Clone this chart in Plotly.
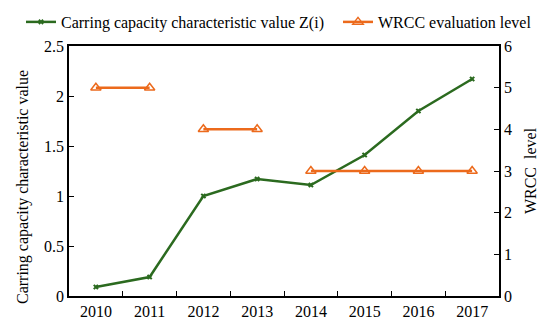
import plotly.graph_objects as go

years = ["2010", "2011", "2012", "2013", "2014", "2015", "2016", "2017"]
z_values = [0.09, 0.19, 1.00, 1.17, 1.11, 1.41, 1.85, 2.17]
wrcc_levels = [5, 5, 4, 4, 3, 3, 3, 3]
left_ticks = [0, 0.5, 1, 1.5, 2, 2.5]
left_tick_text = ["0", "0.5", "1", "1.5", "2", "2.5"]

GREEN = "#2B6A1F"
ORANGE = "#EC6A1C"
FONT = "Liberation Serif"

W, H = 550, 323
ML, MR, MT, MB = 61, 59, 38, 35
PW = W - ML - MR
PH = H - MT - MB

fig = go.Figure()
fig.add_trace(go.Scatter(
    x=years, y=z_values, mode="lines+markers",
    name="Carring capacity characteristic value Z(i)",
    line=dict(color=GREEN, width=2.5),
    marker=dict(symbol="x", size=5, color=GREEN),
    yaxis="y", legend="legend",
))

# group consecutive equal levels into separate segments
groups = []
start = 0
for i in range(1, len(years) + 1):
    if i == len(years) or wrcc_levels[i] != wrcc_levels[start]:
        groups.append((start, i))
        start = i
for k, (a, b) in enumerate(groups):
    fig.add_trace(go.Scatter(
        x=years[a:b], y=wrcc_levels[a:b], mode="lines+markers",
        name="WRCC evaluation level",
        legendgroup="wrcc", showlegend=(k == 0), legend="legend2",
        line=dict(color=ORANGE, width=2.5),
        marker=dict(symbol="triangle-up-open", size=9, color=ORANGE,
                    line=dict(width=1.5, color=ORANGE)),
        yaxis="y2",
    ))

leg_common = dict(orientation="h", yanchor="bottom", xanchor="left",
                  font=dict(family=FONT, size=16), itemwidth=30,
                  bgcolor="rgba(0,0,0,0)", borderwidth=0)

fig.update_layout(
    width=W, height=H,
    margin=dict(l=ML, r=MR, t=MT, b=MB, autoexpand=False),
    paper_bgcolor="white", plot_bgcolor="white",
    font=dict(family=FONT, size=16, color="black"),
    showlegend=True,
    legend=dict(x=(13 - ML) / PW, y=1 + 7 / PH, **leg_common),
    legend2=dict(x=(330 - ML) / PW, y=1 + 7 / PH, **leg_common),
    xaxis=dict(
        type="category", categoryorder="array", categoryarray=years,
        tickmode="array", tickvals=years,
        showline=True, linecolor="black", linewidth=1.5, mirror=True,
        ticks="inside", ticklen=5, tickcolor="black",
        tickson="boundaries", showgrid=False, zeroline=False,
        range=[-0.5, 7.5],
        tickfont=dict(family=FONT, size=16),
    ),
    yaxis=dict(
        range=[0, 2.5], tickmode="array", tickvals=left_ticks, ticktext=left_tick_text,
        showline=True, linecolor="black", linewidth=1.5,
        ticks="inside", ticklen=5, tickcolor="black",
        showgrid=False, zeroline=False,
        tickfont=dict(family=FONT, size=16),
    ),
    yaxis2=dict(
        range=[0, 6], dtick=1, overlaying="y", side="right",
        showline=True, linecolor="black", linewidth=1.5,
        ticks="inside", ticklen=5, tickcolor="black",
        showgrid=False, zeroline=False,
        title=dict(text="WRCC\u00a0 level", font=dict(family=FONT, size=16), standoff=14),
        tickfont=dict(family=FONT, size=16),
    ),
    annotations=[dict(
        text="Carring capacity characteristic value", textangle=-90,
        xref="paper", yref="paper",
        x=(15 - ML) / PW, y=(H - MB - 179) / PH,
        xanchor="center", yanchor="middle", showarrow=False,
        font=dict(family=FONT, size=16),
    )],
)

fig.write_html("out.html")
